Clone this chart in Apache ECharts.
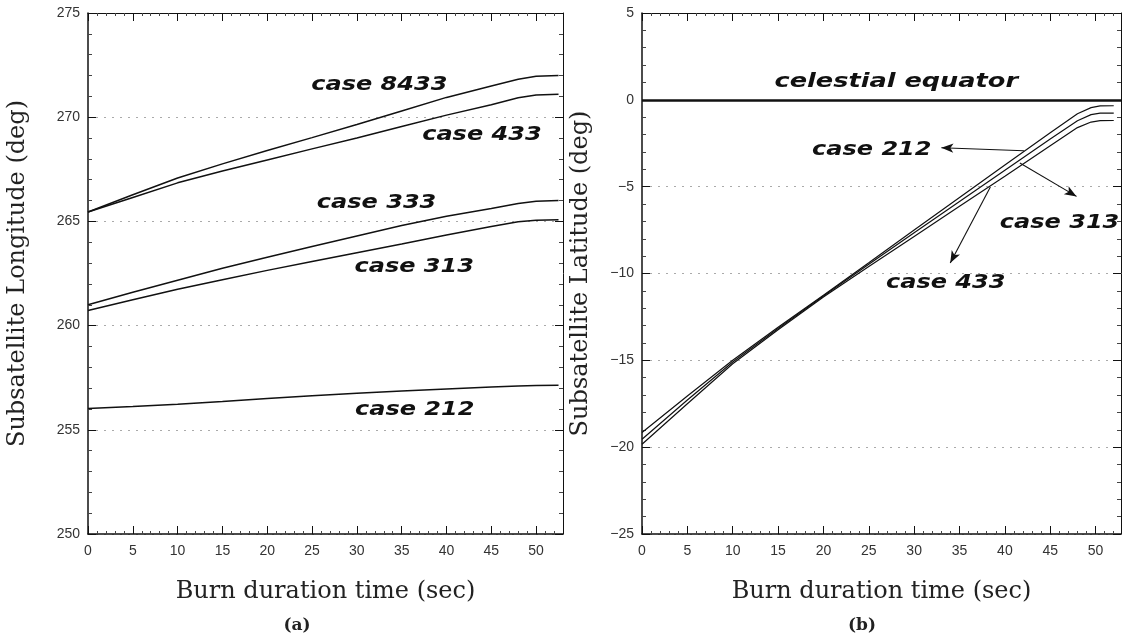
<!DOCTYPE html>
<html><head><meta charset="utf-8">
<script src="https://cdn.jsdelivr.net/npm/echarts@6/dist/echarts.min.js"></script>
<style>html,body{margin:0;padding:0;background:#fff}#c{width:1133px;height:641px}</style>
</head><body><div id="c"></div>
<script>
// ---- Panel (a): Subsatellite longitude (deg) vs burn duration time (sec)
const timeA   = [0, 5, 10, 15, 20, 25, 30, 35, 40, 45, 48, 50, 52.5];
const lon8433 = [265.45, 266.28, 267.08, 267.76, 268.4, 269.02, 269.65, 270.3, 270.95, 271.5, 271.82, 271.97, 272.0];
const lon433  = [265.45, 266.15, 266.85, 267.42, 267.95, 268.48, 269.0, 269.55, 270.1, 270.6, 270.93, 271.07, 271.1];
const lon333  = [261.0, 261.6, 262.18, 262.75, 263.28, 263.8, 264.3, 264.8, 265.25, 265.62, 265.86, 265.97, 266.0];
const lon313  = [260.72, 261.24, 261.74, 262.2, 262.65, 263.08, 263.5, 263.92, 264.35, 264.75, 264.98, 265.06, 265.08];
const lon212  = [256.02, 256.12, 256.23, 256.36, 256.5, 256.63, 256.75, 256.86, 256.96, 257.05, 257.1, 257.13, 257.14];

// ---- Panel (b): Subsatellite latitude (deg) vs burn duration time (sec)
const timeB  = [0, 5, 10, 15, 20, 25, 30, 35, 40, 45, 48, 49.5, 50.5, 52];
const lat212 = [-19.16, -17.05, -15.0, -13.1, -11.25, -9.38, -7.5, -5.62, -3.75, -1.9, -0.8, -0.45, -0.35, -0.34];
const lat313 = [-19.54, -17.28, -15.1, -13.17, -11.3, -9.47, -7.65, -5.85, -4.05, -2.25, -1.2, -0.85, -0.77, -0.76];
const lat433 = [-19.83, -17.5, -15.2, -13.24, -11.35, -9.6, -7.87, -6.13, -4.4, -2.65, -1.6, -1.28, -1.2, -1.19];
const equatorLat = 0;

// ---- Annotations (text, x in sec, y in deg)
const labelsA = [['case 8433', 32.5, 271.56], ['case 433', 43.95, 269.16], ['case 333', 32.2, 265.9],
                 ['case 313', 36.4, 262.82], ['case 212', 36.45, 255.96]];
const labelsB = [['celestial equator', 28.03, 1.03], ['case 212', 25.33, -2.87],
                 ['case 313', 46.03, -7.07], ['case 433', 33.48, -10.52]];
const arrowsB = [[[42.1, -2.93], [33.0, -2.76]], [[41.65, -3.64], [47.9, -5.56]], [[38.4, -5.02], [33.98, -9.39]]];

const chart = echarts.init(document.getElementById('c'), null, {renderer: 'canvas'});
const INK = '#111';
const tickFont = {fontFamily: 'Liberation Sans', fontSize: 14, color: '#333'};
const minus = v => String(v).replace('-', '\u2212');

function xAx(grid, max, top) {
  return {
    type: 'value', gridIndex: grid, min: 0, max: max, interval: 5, position: top ? 'top' : 'bottom',
    axisLine: {show: true, onZero: false, lineStyle: {color: INK, width: top ? 1 : 1.5}},
    axisTick: {show: true, inside: true, length: 8, lineStyle: {color: INK}},
    minorTick: {show: true, splitNumber: 5, length: 3, lineStyle: {color: '#444'}},
    axisLabel: top ? {show: false} : Object.assign({show: true, margin: 10, showMaxLabel: false}, tickFont),
    splitLine: {show: false},
    name: top ? '' : 'Burn duration time (sec)', nameLocation: 'middle', nameGap: 46,
    nameTextStyle: {fontFamily: 'DejaVu Serif', fontSize: 24, color: '#222'}
  };
}
function yAx(grid, min, max, right, name, gap) {
  return {
    type: 'value', gridIndex: grid, min: min, max: max, interval: 5, position: right ? 'right' : 'left',
    axisLine: {show: true, onZero: false, lineStyle: {color: INK, width: right ? 1 : 1.5}},
    axisTick: {show: true, inside: true, length: 8, lineStyle: {color: INK}},
    minorTick: {show: true, splitNumber: 5, length: 4, lineStyle: {color: '#444'}},
    axisLabel: right ? {show: false} : Object.assign({show: true, margin: 8, formatter: minus}, tickFont),
    splitLine: right ? {show: false} : {show: true, lineStyle: {color: '#aaa', type: [2, 6], width: 1}},
    name: right ? '' : name, nameLocation: 'middle', nameGap: gap,
    nameTextStyle: {fontFamily: 'DejaVu Serif', fontSize: 24, color: '#222'}
  };
}
function line(name, xs, ys, xi, yi, w) {
  return {
    type: 'line', name: name, xAxisIndex: xi, yAxisIndex: yi, showSymbol: false, symbol: 'none',
    smooth: false, silent: true,
    lineStyle: {color: INK, width: w}, data: xs.map((t, i) => [t, ys[i]])
  };
}

const eqSeries = line('celestial equator', [], [], 2, 2, 1);
eqSeries.markLine = {
  silent: true, symbol: ['none', 'none'], label: {show: false},
  lineStyle: {color: INK, width: 2.6, type: 'solid'}, data: [{yAxis: equatorLat}]
};
const arrowSeries = line('arrows', [], [], 2, 2, 1);
arrowSeries.markLine = {
  silent: true, symbol: ['none', 'arrow'], symbolSize: [7, 12], label: {show: false},
  lineStyle: {color: INK, width: 1.1, type: 'solid'},
  data: arrowsB.map(a => [{coord: a[0]}, {coord: a[1]}])
};

const option = {
  animation: false,
  backgroundColor: '#fff',
  grid: [
    {left: 88, right: 1133 - 563, top: 13, bottom: 641 - 534},
    {left: 642, right: 1133 - 1121, top: 13, bottom: 641 - 534}
  ],
  xAxis: [xAx(0, 53, false), xAx(0, 53, true), xAx(1, 52.8, false), xAx(1, 52.8, true)],
  yAxis: [yAx(0, 250, 275, false, 'Subsatellite Longitude (deg)', 58), yAx(0, 250, 275, true),
          yAx(1, -25, 5, false, 'Subsatellite Latitude (deg)', 49), yAx(1, -25, 5, true)],
  series: [
    line('case 8433', timeA, lon8433, 0, 0, 1.5),
    line('case 433', timeA, lon433, 0, 0, 1.5),
    line('case 333', timeA, lon333, 0, 0, 1.5),
    line('case 313', timeA, lon313, 0, 0, 1.5),
    line('case 212', timeA, lon212, 0, 0, 1.5),
    line('case 212', timeB, lat212, 2, 2, 1.2),
    line('case 313', timeB, lat313, 2, 2, 1.2),
    line('case 433', timeB, lat433, 2, 2, 1.2),
    eqSeries, arrowSeries
  ]
};
chart.setOption(option);

function textEl(t, p, sx) {
  return {
    type: 'text', x: p[0], y: p[1], scaleX: sx, silent: true,
    style: {text: t, fontFamily: 'DejaVu Sans', fontWeight: 'bold', fontStyle: 'italic', fontSize: 20,
            fill: INK, align: 'center', verticalAlign: 'middle'}
  };
}
const g = [];
labelsA.forEach(([t, x, y]) => g.push(textEl(t, chart.convertToPixel({xAxisIndex: 0, yAxisIndex: 0}, [x, y]), 1.2)));
labelsB.forEach(([t, x, y]) => g.push(textEl(t, chart.convertToPixel({xAxisIndex: 2, yAxisIndex: 2}, [x, y]),
                                               t.length > 10 ? 1.28 : 1.2)));
g.push({type: 'text', x: 297, y: 626, silent: true,
        style: {text: '(a)', fontFamily: 'DejaVu Serif', fontWeight: 'bold', fontSize: 17, fill: '#222', align: 'center', verticalAlign: 'middle'}});
g.push({type: 'text', x: 862, y: 626, silent: true,
        style: {text: '(b)', fontFamily: 'DejaVu Serif', fontWeight: 'bold', fontSize: 17, fill: '#222', align: 'center', verticalAlign: 'middle'}});
chart.setOption({graphic: g});
</script>
</body></html>
